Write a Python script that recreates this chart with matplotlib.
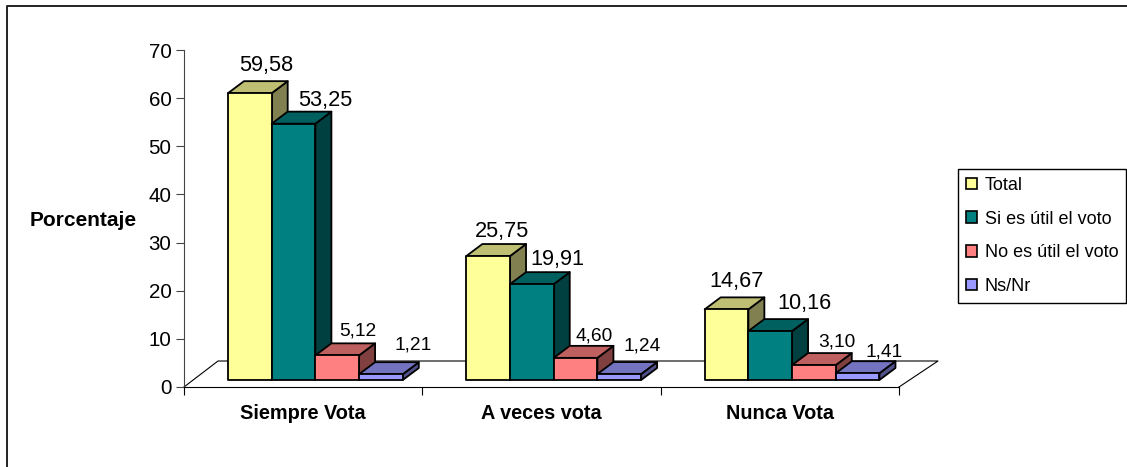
"""Bar chart with hand-drawn 3D look, voting habit by usefulness of the vote."""
import matplotlib

matplotlib.use("Agg")
import matplotlib.pyplot as plt
from matplotlib.lines import Line2D
from matplotlib.patches import Polygon, Rectangle

W, H = 1127, 467

categories = ["Siempre Vota", "A veces vota", "Nunca Vota"]
series = ["Total", "Si es útil el voto", "No es útil el voto", "Ns/Nr"]
total = [59.58, 25.75, 14.67]
si_util = [53.25, 19.91, 10.16]
no_util = [5.12, 4.60, 3.10]
ns_nr = [1.21, 1.24, 1.41]
values = [total, si_util, no_util, ns_nr]
y_ticks = [0, 10, 20, 30, 40, 50, 60, 70]

front = ["#FFFF99", "#008080", "#FF8080", "#9999FF"]
top = ["#BFBF73", "#006060", "#BF6060", "#7373BF"]
side = ["#808050", "#004040", "#804040", "#50508A"]

# label nudges in pixels, from the top back edge of each bar (series x category)
label_dx = [[0, -2, -6], [16, 9, 18], [5, 3, 7], [16, 7, 10]]
label_dy = [[16, 13, 16], [11, 13, 16], [12, 10, 11], [17, 16, 9]]
label_size = [15.7, 15.7, 13.8, 13.8]

plt.rcParams["font.family"] = ["Liberation Sans", "DejaVu Sans"]

fig = plt.figure(figsize=(W / 100, H / 100), dpi=100)

# only the left and top of the chart frame are inside the picture
fig.add_artist(Line2D([6.5 / W, 6.5 / W, 1], [0, 1 - 6 / H, 1 - 6 / H], transform=fig.transFigure,
                      color="#222222", lw=1.4))

ax = fig.add_axes([184 / W, 1 - 387 / H, 715 / W, 337 / H])
ax.set_xlim(0, 3)
ax.set_ylim(0, 70)
for s in ("top", "right"):
    ax.spines[s].set_visible(False)
ax.spines["left"].set_color("#444444")
ax.spines["bottom"].set_linewidth(0.8)
ax.set_yticks(y_ticks)
ax.tick_params(axis="y", labelsize=14.8, length=6, width=0.8, color="#444444", pad=3)
ax.set_xticks([0, 1, 2, 3])
ax.set_xticklabels([])
ax.tick_params(axis="x", length=6, width=0.8, direction="out")
for i, c in enumerate(categories):
    ax.text(i + 0.5, -5.6, c, ha="center", va="center", fontsize=14.3, fontweight="bold")
ax.set_ylabel("Porcentaje", rotation=0, fontsize=15, fontweight="bold", va="center", ha="center")
ax.yaxis.set_label_coords(-0.141, 0.4955)

# sizes of the fake depth, in data units (238.5 px per category, 4.81 px per percent)
px = 3 / 715
py = 70 / 337
floor_dx, floor_dy = 34 * px, 26 * py
bar_w = 43.7 * px
start = 44 * px
lift = 7 * py
dx, dy = 16 * px, 12 * py

ax.plot([0, floor_dx, 3 + 39 * px, 3], [0, floor_dy, floor_dy, 0],
        color="black", lw=0.8, clip_on=False, zorder=1)

z = 3
for i in range(len(categories)):
    for j, vals in enumerate(values):
        x0 = i + start + j * bar_w
        y0 = lift
        y1 = lift + vals[i]
        x1 = x0 + bar_w
        style = dict(ec="black", lw=1.3, joinstyle="round", clip_on=False, zorder=z + j)
        ax.add_patch(Polygon([(x1, y0), (x1 + dx, y0 + dy), (x1 + dx, y1 + dy), (x1, y1)],
                             fc=side[j], **style))
        ax.add_patch(Polygon([(x0, y1), (x0 + dx, y1 + dy), (x1 + dx, y1 + dy), (x1, y1)],
                             fc=top[j], **style))
        ax.add_patch(Rectangle((x0, y0), bar_w, vals[i], fc=front[j], **style))
        ax.text(x0 + bar_w / 2 + dx + label_dx[j][i] * px, y1 + dy + label_dy[j][i] * py,
                f"{vals[i]:.2f}".replace(".", ","),
                ha="center", va="center", fontsize=label_size[j], clip_on=False, zorder=10)

# legend drawn by the library, boxed like the original
handles = [Rectangle((0, 0), 1, 1, fc=front[j], ec="black", lw=1.2) for j in range(len(series))]
leg = fig.legend(handles, series, loc="upper left", bbox_to_anchor=(958 / W, 1 - 169 / H),
                 borderaxespad=0, fontsize=13, frameon=True, fancybox=False, edgecolor="black",
                 framealpha=1, handlelength=0.6, handleheight=0.6, handletextpad=0.44,
                 labelspacing=0.92, borderpad=0.44)
leg.get_frame().set_linewidth(1)

fig.savefig("out.png", dpi=100)
